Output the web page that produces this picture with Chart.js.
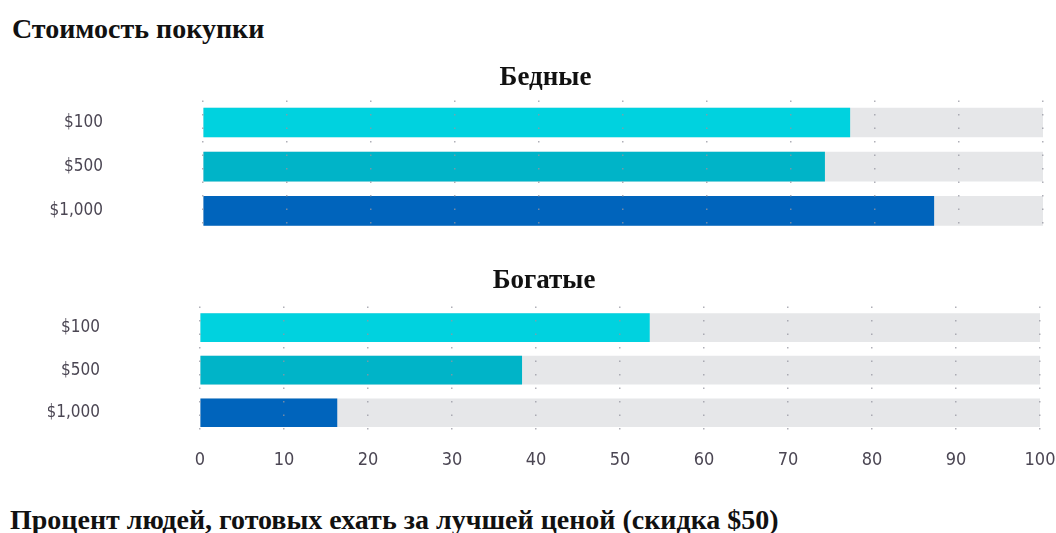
<!DOCTYPE html>
<html>
<head>
<meta charset="utf-8">
<script src="https://cdn.jsdelivr.net/npm/chart.js@4"></script>
<style>
  html, body { margin: 0; padding: 0; background: #fff; }
  body { width: 1056px; height: 533px; position: relative; overflow: hidden; }
  .hdr { position: absolute; left: 10px; font-family: "Liberation Serif", serif; font-weight: bold; font-size: 28px; color: #111; white-space: nowrap; }
  canvas { position: absolute; left: 48px; display: block; }
</style>
</head>
<body>
<div class="hdr" id="topTitle" style="top:13px;left:12px;">Стоимость покупки</div>
<canvas id="c1" width="1008" height="182" style="top:60px;width:1008px;height:182px;"></canvas>
<canvas id="c2" width="1008" height="225" style="top:255px;width:1008px;height:225px;"></canvas>
<div class="hdr" id="bottomTitle" style="top:504px;">Процент людей, готовых ехать за лучшей ценой (скидка $50)</div>
<script>
const categories = ['$100', '$500', '$1,000'];
const poorValues = [77, 74, 87];
const richValues = [53.5, 38.3, 16.3];
const fullScale = [100, 100, 100];
const xTicks = [0, 10, 20, 30, 40, 50, 60, 70, 80, 90, 100];
const groupTitles = ['Бедные', 'Богатые'];

const barColors = ['#00d2df', '#00b4c8', '#0064bc'];
const trackColor = '#e6e7e9';
const narrowFamily = '"Liberation Sans Narrow", "DejaVu Sans Condensed", sans-serif';

function makeChart(id, title, values, cfg) {
  return new Chart(document.getElementById(id), {
    type: 'bar',
    data: {
      labels: categories,
      datasets: [
        { data: values, backgroundColor: barColors, order: 0, grouped: false, barThickness: cfg.bar },
        { data: fullScale, backgroundColor: trackColor, order: 1, grouped: false, barThickness: cfg.bar }
      ]
    },
    options: {
      indexAxis: 'y',
      responsive: false,
      animation: false,
      events: [],
      layout: { padding: { left: 0, right: cfg.padRight, top: 0, bottom: 0 } },
      plugins: {
        legend: { display: false },
        tooltip: { enabled: false },
        title: {
          display: true,
          text: title,
          color: '#111',
          font: { family: '"Liberation Serif", serif', weight: 'bold', size: 27 },
          padding: { top: cfg.titleTop, bottom: cfg.titleBottom }
        }
      },
      scales: {
        x: {
          min: 0, max: 100,
          afterBuildTicks: (s) => { s.ticks = xTicks.map(v => ({ value: v })); },
          afterFit: (s) => { s.height = cfg.xHeight; s.paddingLeft = 0; s.paddingRight = 0; },
          grid: { display: true, drawTicks: false, color: 'rgba(150,150,160,0.75)', lineWidth: 1.5, z: 1 },
          border: { display: false, dash: [1.5, 12] },
          ticks: {
            display: cfg.showX,
            padding: 16,
            color: '#4b4653',
            font: { family: narrowFamily, size: 18 }
          }
        },
        y: {
          afterFit: (s) => { s.width = cfg.yWidth; s.paddingTop = 0; s.paddingBottom = 0; },
          grid: { display: false, drawTicks: false },
          border: { display: false },
          ticks: { padding: 100, color: '#4b4653', font: { family: narrowFamily, size: 17 } }
        }
      }
    }
  });
}

makeChart('c1', groupTitles[0], poorValues, {
  bar: 29, padRight: 13, titleTop: 2, titleBottom: 6, xHeight: 9, yWidth: 155, showX: false
});
makeChart('c2', groupTitles[1], richValues, {
  bar: 28, padRight: 16, titleTop: 10, titleBottom: 9, xHeight: 46, yWidth: 152, showX: true
});
</script>
</body>
</html>
